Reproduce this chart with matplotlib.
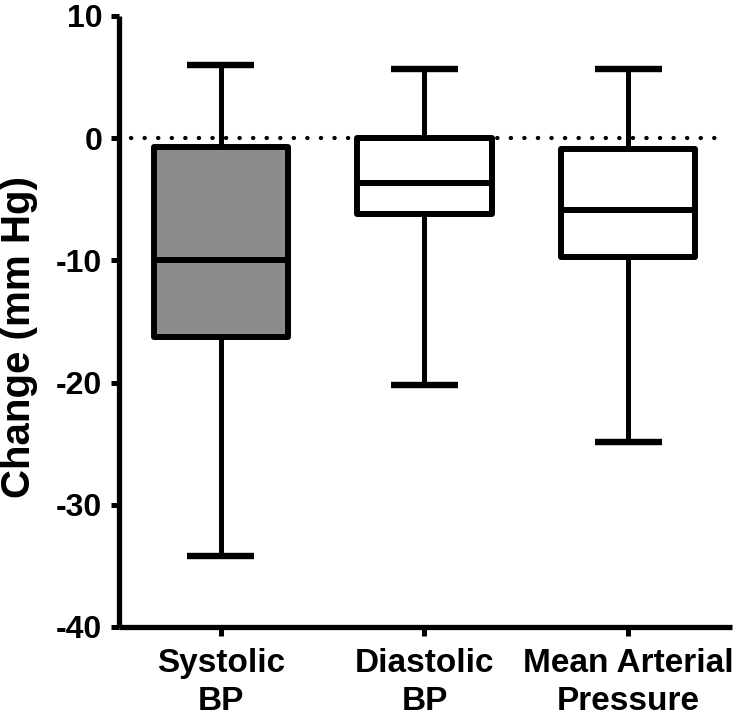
import numpy as np
import matplotlib
matplotlib.use("Agg")
import matplotlib.pyplot as plt

plt.rcParams['font.family'] = ['Liberation Sans', 'DejaVu Sans']
plt.rcParams['font.weight'] = 'bold'
plt.rcParams['axes.unicode_minus'] = False

# data (mm Hg)
labels = ["Systolic\nBP", "Diastolic\nBP", "Mean Arterial\nPressure"]
whis_hi = [6.0, 5.7, 5.7]
q3 = [-0.7, 0.0, -0.9]
medians = [-10.0, -3.7, -5.9]
q1 = [-16.3, -6.2, -9.7]
whis_lo = [-34.2, -20.2, -24.9]
fills = ["#8c8c8c", "white", "white"]

stats = []
for i in range(len(labels)):
    stats.append({"whislo": whis_lo[i], "q1": q1[i], "med": medians[i],
                  "q3": q3[i], "whishi": whis_hi[i], "fliers": []})

fig = plt.figure(figsize=(7.37, 7.19), dpi=100)
ax = fig.add_axes([0.1615, 0.128, 0.8317, 0.8498])

# zero reference line
ax.axhline(0, xmin=0.02, xmax=0.98, color='black', lw=3.1,
           linestyle=(0, (0.05, 3.1)), dash_capstyle='round', zorder=1)

pos = np.arange(1, len(labels) + 1)
bp = ax.bxp(stats, positions=pos, widths=0.66, capwidths=0.33,
            patch_artist=True, showfliers=False,
            boxprops=dict(linewidth=4.3, edgecolor='black', joinstyle='round'),
            medianprops=dict(linewidth=4.3, color='black', solid_capstyle='butt'),
            whiskerprops=dict(linewidth=3.6, color='black', solid_capstyle='butt'),
            capprops=dict(linewidth=4.6, color='black', solid_capstyle='butt'),
            zorder=2)
for patch, c in zip(bp['boxes'], fills):
    patch.set_facecolor(c)

ax.set_xlim(0.5, 3.51)
ax.set_ylim(-40, 10)
ax.set_yticks([-40, -30, -20, -10, 0, 10])
ax.set_xticks(pos)
ax.set_xticklabels(labels, fontsize=24, fontweight='bold', linespacing=1.28)
ax.tick_params(axis='y', labelsize=23, length=6, width=3.6, pad=6)
ax.tick_params(axis='x', length=6.5, width=3.6, pad=8.5)

ax.spines['top'].set_visible(False)
ax.spines['right'].set_visible(False)
for s in ['left', 'bottom']:
    ax.spines[s].set_linewidth(3.8)
    ax.spines[s].set_capstyle('butt')

ax.set_ylabel('Change (mm Hg)', fontsize=29, fontweight='bold')
ax.yaxis.set_label_coords(-0.133, 0.475)

fig.savefig("out.png", dpi=100)
